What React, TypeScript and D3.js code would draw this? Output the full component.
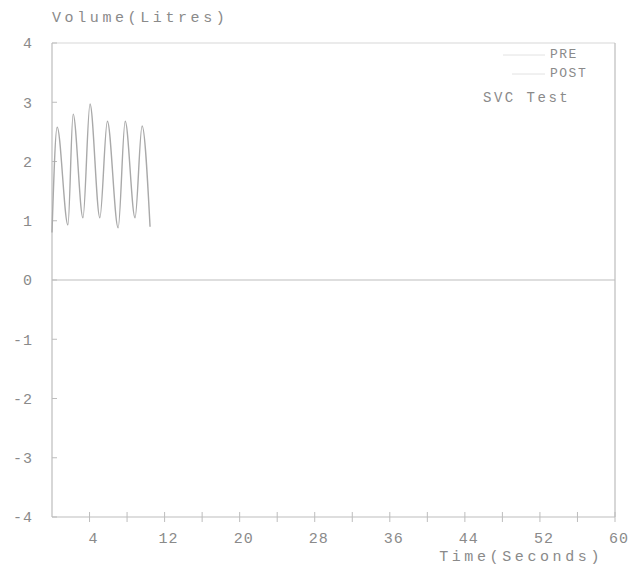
import React from "react";
import * as d3 from "d3";

// SVC test trace (peaks / troughs)
const waveTime = [0, 0.55, 1.7, 2.25, 3.3, 4.05, 5.1, 5.9, 7.05, 7.8, 8.85, 9.6, 10.45];
const waveVolume = [0.8, 2.58, 0.93, 2.8, 1.05, 2.97, 1.05, 2.68, 0.88, 2.68, 1.05, 2.6, 0.9];

const xTickLabels = [4, 12, 20, 28, 36, 44, 52, 60];
const xMinorTicks = [4, 8, 12, 16, 20, 24, 28, 32, 36, 40, 44, 48, 52, 56, 60];
const yTickLabels = [4, 3, 2, 1, 0, -1, -2, -3, -4];

const legendItems = ["PRE", "POST"];
const legendTitle = "SVC Test";

const W = 637;
const H = 566;
const margin = { left: 52, right: 22, top: 43, bottom: 49 };

const fontStyle = {
  fontFamily: "'Liberation Mono', 'DejaVu Sans Mono', monospace",
  fontSize: 15,
  letterSpacing: 3.6,
};

export default function App() {
  const x = d3.scaleLinear().domain([0, 60]).range([margin.left, W - margin.right]);
  const y = d3.scaleLinear().domain([-4, 4]).range([H - margin.bottom, margin.top]);

  const points: [number, number][] = waveTime.map((t, i) => [t, waveVolume[i]]);
  const line = d3
    .line<[number, number]>()
    .x((d) => x(d[0]))
    .y((d) => y(d[1]))
    .curve(d3.curveMonotoneX);

  const axisColor = "#bdbdbd";
  const textColor = "#8a8a8a";

  return (
    <svg
      width={W}
      height={H}
      style={{ position: "absolute", left: 0, top: 0, background: "#fff" }}
    >
      {/* frame */}
      <line x1={x(0)} x2={x(60)} y1={y(4)} y2={y(4)} stroke="#e4e4e4" strokeWidth={1.5} />
      <line x1={x(60)} x2={x(60)} y1={y(4)} y2={y(-4)} stroke={axisColor} strokeWidth={1.2} />
      <line x1={x(0)} x2={x(0)} y1={y(4)} y2={y(-4)} stroke={axisColor} strokeWidth={1.2} />
      <line x1={x(0)} x2={x(60)} y1={y(-4)} y2={y(-4)} stroke={axisColor} strokeWidth={1.2} />
      {/* zero line */}
      <line x1={x(0)} x2={x(60)} y1={y(0)} y2={y(0)} stroke={axisColor} strokeWidth={1.2} />

      {/* y axis */}
      {yTickLabels.map((v) => (
        <g key={"y" + v}>
          <line x1={x(0)} x2={x(0) + 5} y1={y(v)} y2={y(v)} stroke={axisColor} />
          <text
            x={33}
            y={y(v)}
            dy="0.35em"
            textAnchor="end"
            fill={textColor}
            style={{ ...fontStyle, letterSpacing: 1 }}
          >
            {v}
          </text>
        </g>
      ))}

      {/* x axis */}
      {xMinorTicks.map((v) => (
        <line
          key={"xm" + v}
          x1={x(v)}
          x2={x(v)}
          y1={y(-4) - 5}
          y2={y(-4) + 5}
          stroke={axisColor}
        />
      ))}
      {xTickLabels.map((v) => (
        <text
          key={"x" + v}
          x={x(v) + 4}
          y={y(-4) + 26}
          textAnchor="middle"
          fill={textColor}
          style={{ ...fontStyle, letterSpacing: 1 }}
        >
          {v}
        </text>
      ))}

      <text x={52} y={22} fill={textColor} style={fontStyle}>
        Volume(Litres)
      </text>
      <text x={603} y={561} textAnchor="end" fill={textColor} style={fontStyle}>
        Time(Seconds)
      </text>

      {/* legend */}
      {legendItems.map((name, i) => (
        <g key={name}>
          <line
            x1={i === 0 ? 503 : 512}
            x2={545}
            y1={55 + i * 19}
            y2={55 + i * 19}
            stroke="#e2e2e2"
          />
          <text x={550} y={58 + i * 19} fill={textColor} style={{ ...fontStyle, fontSize: 13, letterSpacing: 1.5 }}>
            {name}
          </text>
        </g>
      ))}
      <text x={483} y={102} fill={textColor} style={{ ...fontStyle, fontSize: 14, letterSpacing: 2.5 }}>
        {legendTitle}
      </text>

      {/* trace */}
      <path d={line(points) ?? ""} fill="none" stroke="#a9a9a9" strokeWidth={1.4} />
    </svg>
  );
}
